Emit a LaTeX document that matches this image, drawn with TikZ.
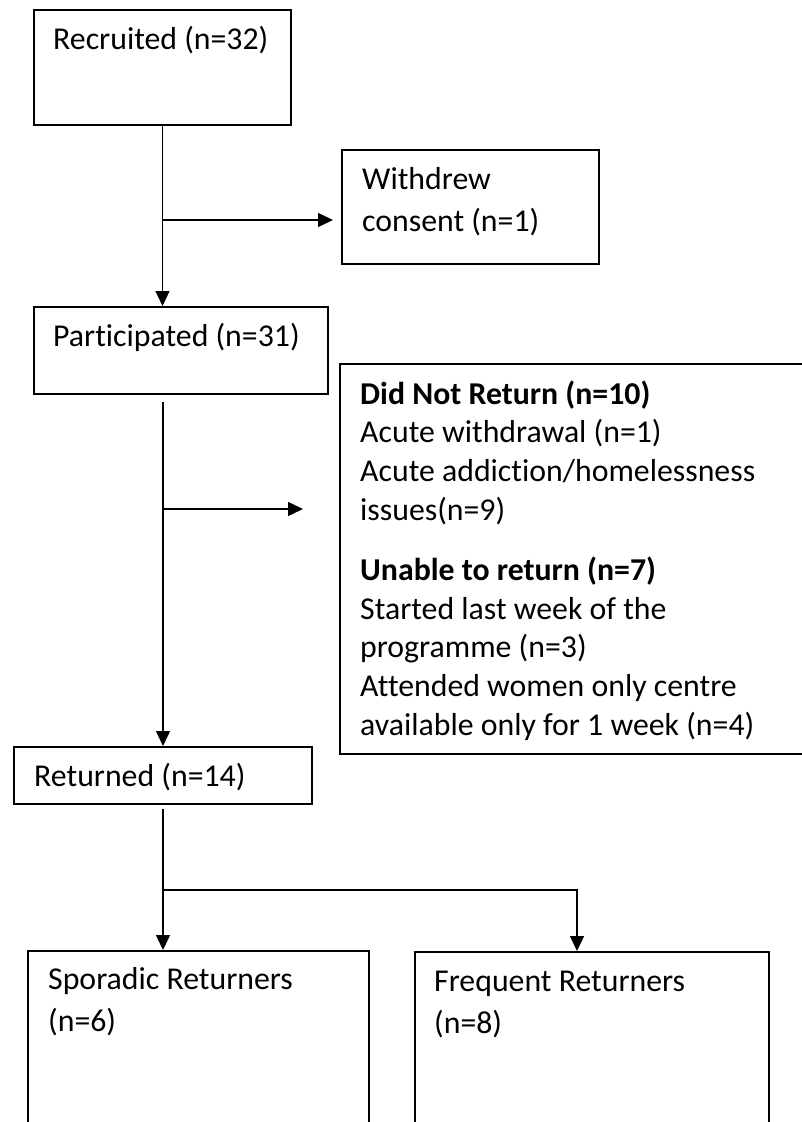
\documentclass[tikz,border=0pt]{standalone}
\usepackage{fontspec}
\setmainfont{Carlito}[Ligatures=NoCommon]
\usetikzlibrary{arrows.meta,positioning}

\begin{document}
\begin{tikzpicture}[x=1pt,y=-1pt,
    blk/.style={draw, line width=2pt, anchor=north west, inner sep=0pt},
    lbl/.style={anchor=base west, align=left, inner sep=0pt, font=\fontsize{31.8}{42}\selectfont},
    flow/.style={line width=1.4pt, -{Triangle[length=15pt,width=14pt]}}]
  \useasboundingbox (0,0) rectangle (802,1122);
  \clip (0,0) rectangle (802,1122);
  % Recruited
  \node[blk, minimum width=257pt, minimum height=115pt] (recr) at (33,9) {};
  \node[lbl] (recrtxt) at ([shift={(20,40)}]recr.north west) {Recruited (n=32)};
  % Withdrew (base = last line)
  \node[blk, minimum width=257pt, minimum height=114pt] (wdr) at (341,149) {};
  \node[lbl] (wdrtxt) at ([shift={(21,82)}]wdr.north west) {Withdrew\\consent (n=1)};
  % Participated
  \node[blk, minimum width=294pt, minimum height=87pt] (part) at (33,306) {};
  \node[lbl] (parttxt) at ([shift={(20,40)}]part.north west) {Participated (n=31)};
  % Did not return
  \node[blk, minimum width=480pt, minimum height=390pt] (dnr) at (339,363) {};
  \node[lbl, font=\fontsize{31.8}{38.6}\selectfont] (dnrtxt) at ([shift={(21,372)}]dnr.north west)
    {\textbf{Did Not Return (n=10)}\\
     Acute withdrawal (n=1)\\
     Acute addiction/homelessness\\
     issues(n=9)\\[22pt]
     \textbf{Unable to return (n=7)}\\
     Started last week of the\\
     programme (n=3)\\
     Attended women only centre\\
     available only for 1 week (n=4)};
  % Returned
  \node[blk, minimum width=298pt, minimum height=57pt] (ret) at (13,746) {};
  \node[lbl] (rettxt) at ([shift={(21,40)}]ret.north west) {Returned (n=14)};
  % Sporadic / Frequent
  \node[blk, minimum width=341pt, minimum height=200pt] (spor) at (27,950) {};
  \node[lbl] (sportxt) at ([shift={(21,81)}]spor.north west) {Sporadic Returners\\(n=6)};
  \node[blk, minimum width=354pt, minimum height=200pt] (freq) at (414,951) {};
  \node[lbl] (freqtxt) at ([shift={(20,82)}]freq.north west) {Frequent Returners\\(n=8)};

  % arrows
  \coordinate (k1) at ([yshift=-13pt]wdr.west);
  \coordinate (k2) at (303,509);
  \coordinate (k3) at (162,890);
  \draw[flow] (recr.south) -- (recr.south |- part.north);
  \draw[flow] (recr.south |- k1) -- ([xshift=-8pt]k1);
  \draw[flow] ([yshift=-7pt]part.south -| ret.north) -- (ret.north);
  \draw[flow] (ret.north |- k2) -- (k2);
  \draw[flow] ([yshift=-4pt]ret.south) -- (ret.south |- spor.north);
  \draw[flow] (k3) -| ([xshift=-15pt]freq.north);
\end{tikzpicture}
\end{document}
